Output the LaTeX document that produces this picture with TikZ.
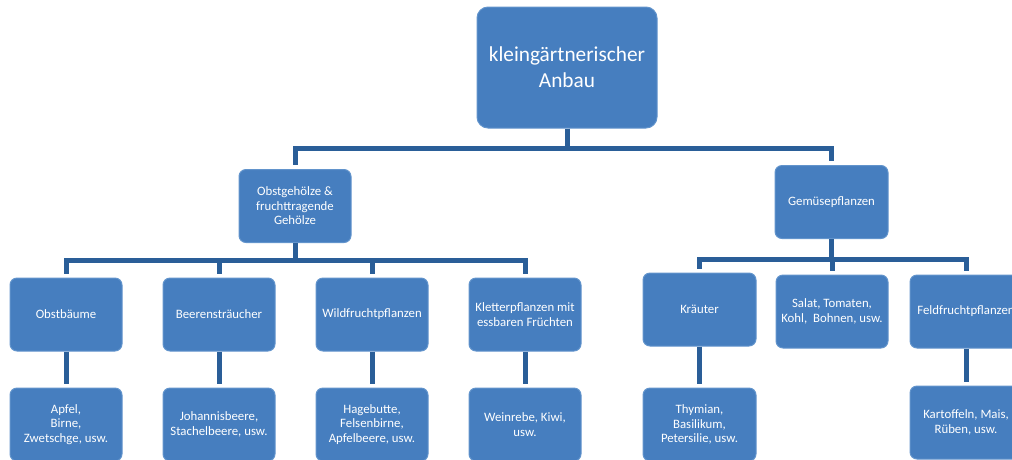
\documentclass[tikz,border=0pt]{standalone}
\usepackage{fontspec}
\setmainfont{Carlito}
\usepackage{tikz}
\usetikzlibrary{positioning}
\definecolor{boxblue}{RGB}{70,126,191}
\definecolor{boxedge}{RGB}{98,148,204}
\definecolor{linkblue}{RGB}{42,94,152}
\tikzset{
	box/.style={draw=boxedge,line width=1pt,fill=boxblue,rounded corners=7pt,
		text=white,align=center,inner sep=2pt,
		minimum width=112pt,minimum height=73pt,
		font=\fontsize{12.8}{14.5}\selectfont},
	topbox/.style={box,minimum width=180pt,minimum height=121pt,rounded corners=11pt,
		font=\fontsize{21.3}{26}\selectfont},
	link/.style={draw=linkblue,line width=5pt,shorten >=4pt}
}

\begin{document}
\begin{tikzpicture}[x=1pt,y=-1pt]
\useasboundingbox (0,0) rectangle (1012,459);
\clip (0,0) rectangle (1012,459);

\node[topbox] (anbau) at (567,67.5) {kleingärtnerischer\\Anbau};

\node[box] (gehoelze) at (295,206) {Obstgehölze \&\\fruchttragende\\Gehölze};
\node[box,minimum width=113pt] (gemuese) at (831.5,202) {Gemüsepflanzen};

\node[box] (obstbaeume) at (66,314.5) {Obstbäume};
\node[box,right=40pt of obstbaeume] (beeren) {Beerensträucher};
\node[box,right=40pt of beeren] (wild) {Wildfruchtpflanzen};
\node[box,right=40pt of wild] (kletter) {Kletterpflanzen mit\\essbaren Früchten};

\node[box,minimum width=113pt] (kraeuter) at (699.5,309.5) {Kräuter};
\node[box] (salat) at (832,311.5) {Salat, Tomaten,\\Kohl,\ \ Bohnen, usw.};
\node[box] (feld) at (966,311.5) {Feldfruchtpflanzen};

\node[box,below=36pt of obstbaeume] (apfel) {Apfel,\\Birne,\\Zwetschge, usw.};
\node[box,below=36pt of beeren] (johannis) {Johannisbeere,\\Stachelbeere, usw.};
\node[box,below=36pt of wild] (hagebutte) {Hagebutte,\\Felsenbirne,\\Apfelbeere, usw.};
\node[box,below=36pt of kletter] (weinrebe) {Weinrebe, Kiwi,\\usw.};
\node[box,minimum width=113pt,below=41pt of kraeuter] (thymian) {Thymian,\\Basilikum,\\Petersilie, usw.};
\node[box,below=37pt of feld] (kartoffeln) {Kartoffeln, Mais,\\Rüben, usw.};

% first level
\draw[link] (anbau.south) -- ++(0,20) -| (gehoelze.north);
\draw[link] (anbau.south) -- ++(0,20) -| (gemuese.north);

% second level
\foreach \n in {obstbaeume,beeren,wild,kletter}
	\draw[link] (gehoelze.south) -- ++(0,17) -| (\n.north);
\foreach \n in {kraeuter,salat,feld}
	\draw[link] (gemuese.south) -- ++(0,20) -| (\n.north);

% third level
\draw[link] (obstbaeume) -- (apfel);
\draw[link] (beeren) -- (johannis);
\draw[link] (wild) -- (hagebutte);
\draw[link] (kletter) -- (weinrebe);
\draw[link] (kraeuter) -- (thymian);
\draw[link] (feld) -- (kartoffeln);

\end{tikzpicture}
\end{document}
